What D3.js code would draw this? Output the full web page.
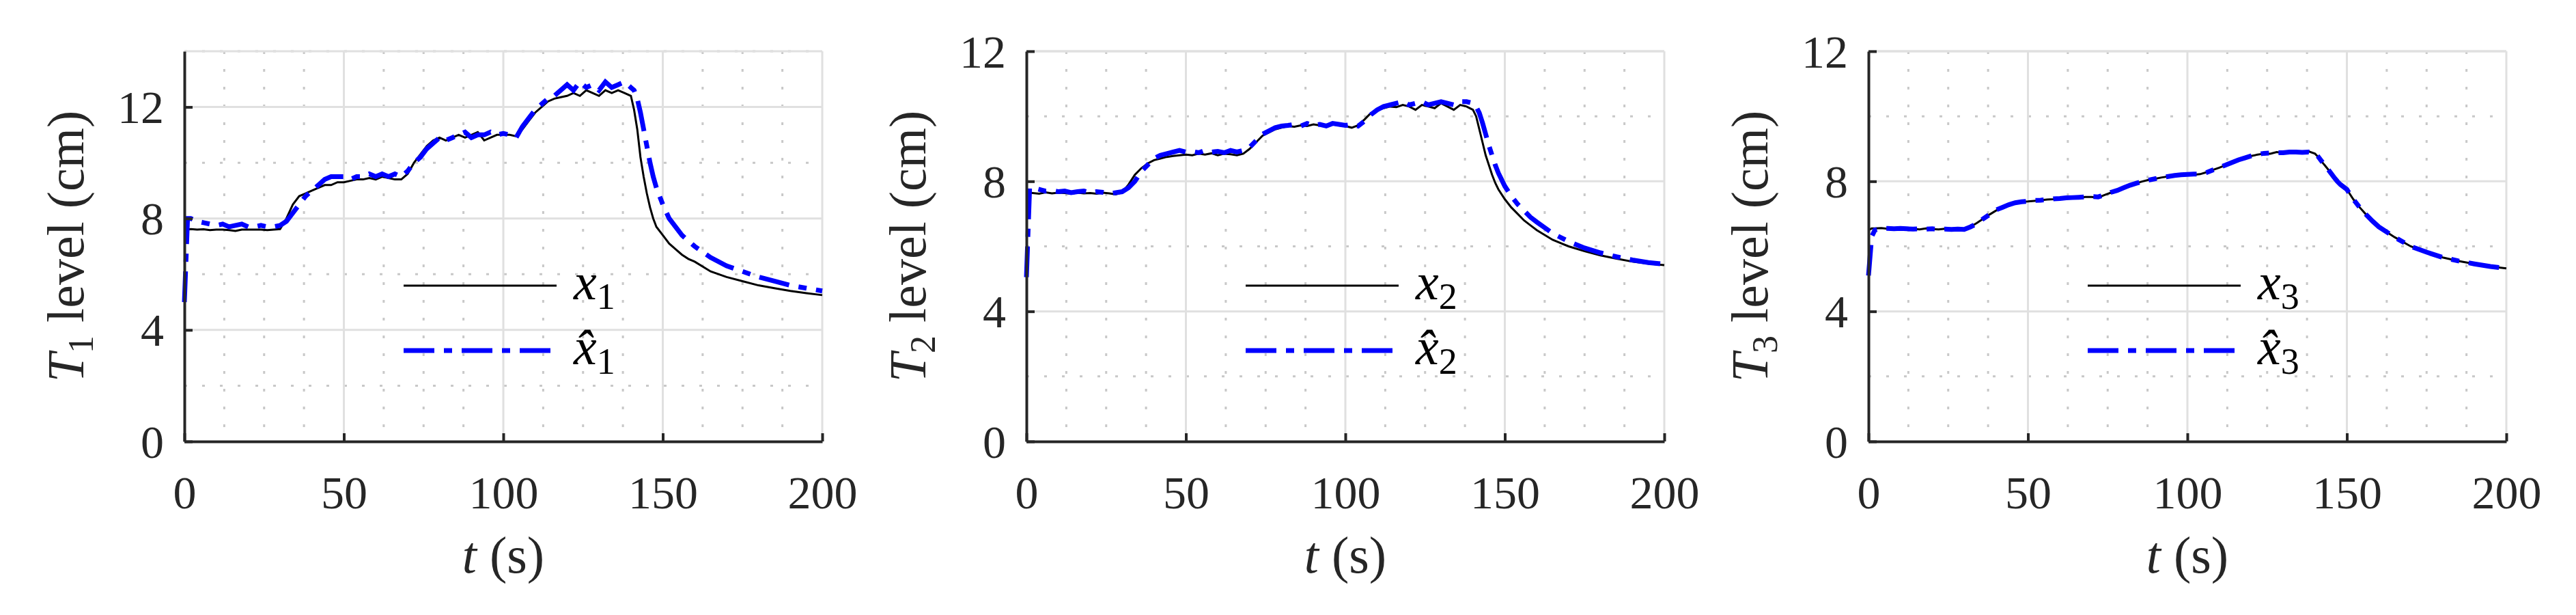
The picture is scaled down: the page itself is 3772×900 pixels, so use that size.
<!DOCTYPE html>
<html>
<head>
<meta charset="utf-8">
<script src="https://cdn.jsdelivr.net/npm/d3@7"></script>
<style>
  body { margin: 0; background: #fff; }
  text { font-family: "Liberation Serif", "DejaVu Serif", serif; fill: #262626; }
</style>
</head>
<body>
<svg id="chart" width="3772" height="900"></svg>
<script>
var times = [0,1,2,4,6,8,10,12,14,16,18,20,22,24,26,28,30,32,34,36,38,40,42,44,46,48,50,52,54,56,58,60,62,64,66,68,70,72,74,76,78,80,82,84,86,88,90,92,94,96,98,100,102,104,106,108,110,112,114,116,118,120,122,124,126,128,130,132,134,136,138,140,141,142,143,144,145,146,147,148,150,152,154,156,158,160,165,170,175,180,185,190,195,200];

var x1 = [7.6,7.6,
  7.62,7.6,7.61,7.58,7.6,7.6,7.58,7.55,7.6,7.6,7.6,7.6,7.58,7.6,7.62,
  8.0,8.5,8.8,8.9,9.0,9.1,9.2,9.2,9.3,9.3,9.35,9.4,9.4,9.45,9.4,9.5,9.45,9.4,9.4,
  9.6,10.0,10.3,10.6,10.8,10.9,10.8,10.9,11.0,10.9,11.0,11.1,10.8,10.9,11.0,11.0,11.0,10.95,
  11.2,11.5,11.8,12.0,12.2,12.3,12.35,12.4,12.5,12.4,12.6,12.5,12.4,12.6,12.5,12.6,12.5,12.4,
  11.9,11.2,10.2,9.5,8.9,8.4,8.0,7.7,
  7.4,7.1,6.9,6.7,6.55,
  6.45,6.1,5.9,5.75,5.6,5.5,5.4,5.32,5.25];
var x1hat = [5.0,8.0,
  8.0,7.9,7.85,7.8,7.75,7.8,7.7,7.75,7.8,7.7,7.7,7.75,7.7,7.7,7.75,
  7.9,8.2,8.5,8.8,9.0,9.2,9.4,9.5,9.5,9.5,9.4,9.5,9.5,9.6,9.5,9.6,9.5,9.6,9.5,
  9.7,10.0,10.2,10.5,10.7,10.9,10.8,10.9,11.0,11.1,10.9,11.0,11.0,11.1,11.0,11.05,11.0,10.9,
  11.3,11.6,11.9,12.1,12.3,12.4,12.6,12.8,12.6,12.9,12.7,12.8,12.6,12.9,12.7,12.8,12.9,12.7,
  12.6,12.3,11.8,11.2,10.6,10.0,9.5,9.1,
  8.5,8.0,7.7,7.4,7.2,
  7.0,6.6,6.3,6.1,5.9,5.75,5.6,5.5,5.4];
var x2 = [7.65,7.65,
  7.64,7.62,7.66,7.63,7.65,7.64,7.62,7.65,7.63,7.64,7.62,7.65,7.63,7.6,7.66,
  7.9,8.2,8.4,8.55,8.65,8.7,8.75,8.78,8.8,8.82,8.8,8.85,8.82,8.86,8.8,8.85,8.83,8.8,8.85,
  9.0,9.2,9.4,9.5,9.6,9.65,9.7,9.68,9.72,9.7,9.75,9.72,9.7,9.75,9.72,9.7,9.65,9.72,
  9.9,10.1,10.2,10.25,10.3,10.28,10.35,10.3,10.2,10.35,10.3,10.25,10.4,10.3,10.2,10.35,10.3,10.2,
  10.0,9.6,9.2,8.8,8.5,8.2,7.95,7.75,
  7.45,7.2,7.0,6.8,6.65,
  6.5,6.2,6.0,5.85,5.72,5.62,5.53,5.47,5.42];
var x2hat = [5.05,7.8,
  7.8,7.75,7.7,7.72,7.68,7.7,7.65,7.68,7.7,7.65,7.68,7.66,7.62,7.65,7.68,
  7.8,8.0,8.3,8.5,8.7,8.8,8.85,8.9,8.95,8.9,8.92,8.88,8.95,8.9,8.92,8.88,8.95,8.9,8.95,
  9.05,9.25,9.45,9.55,9.65,9.7,9.72,9.75,9.7,9.78,9.72,9.75,9.7,9.78,9.75,9.72,9.75,9.7,
  9.85,10.05,10.2,10.3,10.35,10.4,10.45,10.35,10.4,10.45,10.35,10.4,10.45,10.4,10.35,10.45,10.45,10.4,
  10.3,10.1,9.8,9.45,9.1,8.8,8.5,8.25,
  7.85,7.55,7.3,7.1,6.9,
  6.75,6.4,6.15,5.95,5.8,5.68,5.58,5.5,5.45];
var x3 = [6.5,6.55,
  6.55,6.56,6.54,6.55,6.53,6.55,6.54,6.52,6.55,6.53,6.52,6.54,6.51,6.52,6.52,
  6.6,6.72,6.85,6.98,7.1,7.2,7.28,7.33,7.37,7.38,7.4,7.42,7.44,7.45,7.47,7.48,7.5,7.5,7.52,
  7.52,7.5,7.58,7.65,7.72,7.8,7.87,7.94,8.0,8.05,8.08,8.12,8.15,8.17,8.2,8.22,8.2,8.22,
  8.28,8.35,8.42,8.5,8.58,8.65,8.72,8.78,8.82,8.85,8.85,8.9,8.87,8.9,8.88,8.9,8.92,8.85,
  8.75,8.62,8.5,8.38,8.25,8.12,8.0,7.9,
  7.75,7.45,7.2,6.98,6.78,
  6.6,6.28,6.0,5.82,5.66,5.55,5.46,5.38,5.32];
var x3hat = [5.1,6.3,
  6.5,6.55,6.55,6.54,6.55,6.54,6.53,6.54,6.53,6.54,6.52,6.53,6.52,6.53,6.52,
  6.6,6.7,6.85,6.98,7.12,7.2,7.28,7.34,7.37,7.39,7.41,7.42,7.44,7.46,7.47,7.49,7.5,7.51,7.52,
  7.53,7.52,7.58,7.66,7.72,7.8,7.88,7.94,8.0,8.04,8.08,8.12,8.15,8.18,8.2,8.21,8.22,8.22,
  8.27,8.35,8.43,8.5,8.58,8.66,8.72,8.78,8.83,8.86,8.87,8.88,8.88,8.9,8.9,8.89,8.9,8.86,
  8.76,8.63,8.5,8.38,8.25,8.12,8.0,7.9,
  7.75,7.45,7.2,6.98,6.78,
  6.6,6.28,6.0,5.82,5.66,5.55,5.46,5.38,5.32];

var panels = [
  {left: 270, sub: "1", ymax: 14, est: x1, meas: x1hat},
  {left: 1503, sub: "2", ymax: 12, est: x2, meas: x2hat},
  {left: 2736, sub: "3", ymax: 12, est: x3, meas: x3hat}
];
var plotW = 934, plotTop = 75, plotBottom = 646;
var svg = d3.select("#chart");

panels.forEach(function(p) {
  var g = svg.append("g").attr("transform", "translate(" + p.left + ",0)");
  var x = d3.scaleLinear().domain([0, 200]).range([0, plotW]);
  var y = d3.scaleLinear().domain([0, p.ymax]).range([plotBottom, plotTop]);

  // minor grid
  g.selectAll(".mx").data(d3.range(12.5, 200, 12.5).filter(function(v) { return v % 50; }))
    .enter().append("line")
    .attr("x1", x).attr("x2", x).attr("y1", plotTop).attr("y2", plotBottom)
    .attr("stroke", "#c8c8c8").attr("stroke-width", 3).attr("stroke-dasharray", "4,22");
  g.selectAll(".my").data(d3.range(2, p.ymax + 0.1, 4))
    .enter().append("line")
    .attr("y1", y).attr("y2", y).attr("x1", 0).attr("x2", plotW)
    .attr("stroke", "#c8c8c8").attr("stroke-width", 3).attr("stroke-dasharray", "4,22");
  // major grid
  g.selectAll(".gx").data([50, 100, 150, 200]).enter().append("line")
    .attr("x1", x).attr("x2", x).attr("y1", plotTop).attr("y2", plotBottom)
    .attr("stroke", "#e0e0e0").attr("stroke-width", 3);
  g.selectAll(".gy").data(d3.range(4, p.ymax + 0.1, 4)).enter().append("line")
    .attr("y1", y).attr("y2", y).attr("x1", 0).attr("x2", plotW)
    .attr("stroke", "#e0e0e0").attr("stroke-width", 3);
  g.append("line").attr("x1", 0).attr("x2", plotW).attr("y1", plotTop).attr("y2", plotTop)
    .attr("stroke", "#e0e0e0").attr("stroke-width", 3);

  // lines
  var line = function(vals) {
    return d3.line().x(function(d, i) { return x(times[i]); }).y(function(d) { return y(d); })(vals);
  };
  g.append("path").attr("d", line(p.est)).attr("fill", "none")
    .attr("stroke", "#000").attr("stroke-width", 3);
  g.append("path").attr("d", line(p.meas)).attr("fill", "none")
    .attr("stroke", "#0000ff").attr("stroke-width", 7).attr("stroke-dasharray", "45,14,12,14");

  // axes
  var xa = g.append("g").attr("transform", "translate(0," + plotBottom + ")")
    .call(d3.axisBottom(x).tickValues([0, 50, 100, 150, 200]).tickSizeInner(-12).tickSizeOuter(0).tickPadding(50));
  var ya = g.append("g")
    .call(d3.axisLeft(y).tickValues(d3.range(0, p.ymax + 0.1, 4)).tickSizeInner(-12).tickSizeOuter(0).tickPadding(30));
  [xa, ya].forEach(function(a) {
    a.select(".domain").attr("stroke", "#262626").attr("stroke-width", 4);
    a.selectAll(".tick line").attr("stroke", "#262626").attr("stroke-width", 4);
    a.selectAll(".tick text").attr("font-size", 68).attr("fill", "#262626")
      .attr("font-family", "Liberation Serif");
  });
  xa.selectAll(".tick text").attr("dy", "0.71em");
  ya.selectAll(".tick text").attr("dy", "0.34em");

  // axis labels
  var xl = g.append("text").attr("x", x(100)).attr("y", 838).attr("text-anchor", "middle").attr("font-size", 76);
  xl.append("tspan").attr("font-style", "italic").text("t");
  xl.append("tspan").text(" (s)");
  var yl = g.append("text").attr("transform", "translate(-148," + ((plotTop + plotBottom) / 2) + ") rotate(-90)")
    .attr("text-anchor", "middle").attr("font-size", 76);
  yl.append("tspan").attr("font-style", "italic").text("T");
  yl.append("tspan").attr("font-size", 52).attr("dy", 14).text(p.sub);
  yl.append("tspan").attr("dy", -14).text(" level (cm)");

  // legend
  var items = [{name: "x", hat: false, y: 418}, {name: "x̂", hat: true, y: 513}];
  items.forEach(function(it) {
    g.append("line").attr("x1", 321).attr("x2", 545).attr("y1", it.y).attr("y2", it.y)
      .attr("stroke", it.hat ? "#0000ff" : "#000")
      .attr("stroke-width", it.hat ? 7 : 3)
      .attr("stroke-dasharray", it.hat ? "45,14,12,14" : null);
    var t = g.append("text").attr("x", 570).attr("y", it.y + 20).attr("font-size", 76).style("fill", "#000");
    t.append("tspan").attr("font-style", "italic").text(it.name);
    t.append("tspan").attr("font-size", 54).attr("dy", 14).text(p.sub);
  });
});
</script>
</body>
</html>
